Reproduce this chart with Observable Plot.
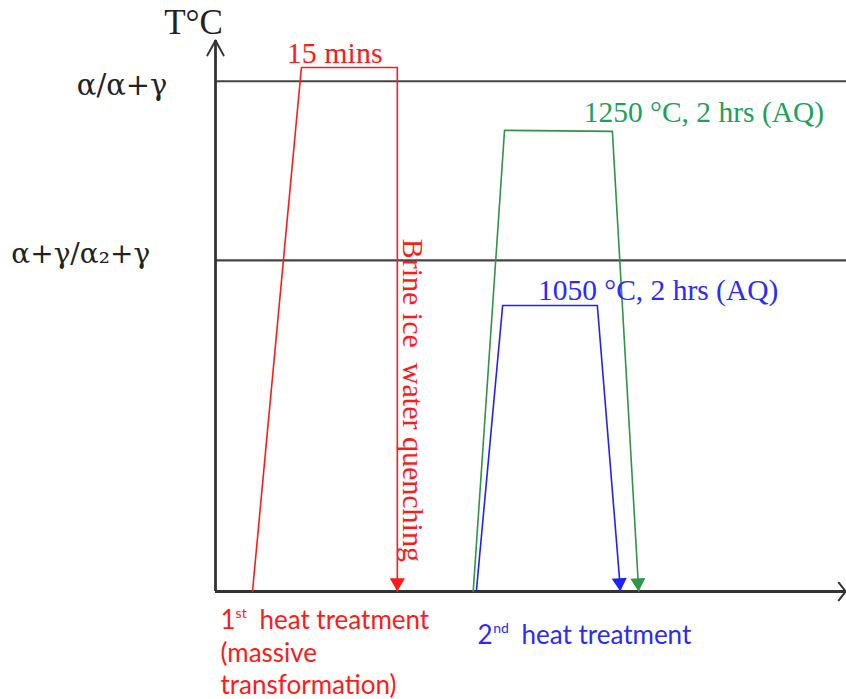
<!DOCTYPE html>
<html><head><meta charset="utf-8">
<script src="https://cdn.jsdelivr.net/npm/d3@7"></script>
<script src="https://cdn.jsdelivr.net/npm/@observablehq/plot@0.6"></script>
<style>body{margin:0;background:#fff}#chart svg{display:block;overflow:visible}</style>
</head><body><div id="chart"></div>
<script>
// Schematic heat-treatment diagram (arbitrary time / temperature units)
const phaseLevels = [92.6, 60.1];
const phaseLabels = ["α/α+γ", "α+γ/α₂+γ"];

const redTime = [5.9, 13.7, 29.0, 29.0];
const redTemp = [0, 95.1, 95.1, 0];
const greenTime = [41.1, 46.1, 63.3, 67.5];
const greenTemp = [0, 83.7, 83.5, 0];
const blueTime = [41.6, 45.8, 60.9, 64.6];
const blueTemp = [0, 51.9, 51.9, 0];

const colors = {red: "#ff1a1a", green: "#2f9446", blue: "#2020ff", greenText: "#21a05a", blueText: "#2a2aff", axis: "#333333", phase: "#444444"};

const serifLabels = [
  {text: "T°C", x: -3.5, y: 103.2, size: 35, color: "#222", font: "Liberation Serif"},
  {text: phaseLabels[0], x: -14.9, y: 91.8, size: 29, color: "#222", font: "DejaVu Serif"},
  {text: phaseLabels[1], x: -21.5, y: 61.2, size: 28, color: "#222", font: "DejaVu Serif"},
  {text: "15 mins", x: 19.0, y: 97.6, size: 30, color: colors.red, font: "Liberation Serif"},
  {text: "1250 °C, 2 hrs (AQ)", x: 77.9, y: 87.0, size: 29.5, color: colors.greenText, font: "Liberation Serif"},
  {text: "1050 °C, 2 hrs (AQ)", x: 70.6, y: 54.6, size: 29.5, color: colors.blueText, font: "Liberation Serif"}
];
const quenchLabel = [{text: "Brine ice  water quenching", x: 31.4, y: 34.7}];
const sansLabels = [
  {text: "1", x: 0.8, y: -5.3, size: 26, color: colors.red},
  {text: "st", x: 3.2, y: -4.0, size: 14, color: colors.red},
  {text: "heat treatment", x: 7.0, y: -5.3, size: 26, color: colors.red},
  {text: "(massive", x: 0.8, y: -11.3, size: 26, color: colors.red},
  {text: "transformation)", x: 0.8, y: -17.1, size: 26, color: colors.red},
  {text: "2", x: 41.8, y: -8.0, size: 26, color: colors.blueText},
  {text: "nd", x: 44.3, y: -6.7, size: 14, color: colors.blueText},
  {text: "heat treatment", x: 48.8, y: -8.0, size: 26, color: colors.blueText}
];

const pts = (t, v) => t.map((x, i) => ({x, y: v[i]}));
const red = pts(redTime, redTemp);
const green = pts(greenTime, greenTemp);
const blue = pts(blueTime, blueTemp);
const arrowHeads = [
  {x: redTime[3], y: 1.6, c: colors.red, r: 180},
  {x: blueTime[3] - 0.15, y: 1.6, c: colors.blue, r: 176},
  {x: greenTime[3] - 0.1, y: 1.6, c: colors.green, r: 177}
];

const marks = [
  Plot.ruleY(phaseLevels, {x1: 0, x2: 101, stroke: colors.phase, strokeWidth: 2.2}),
  Plot.ruleX([0], {y1: 0, y2: 100, stroke: colors.axis, strokeWidth: 2.8}),
  Plot.ruleY([0], {x1: 0, x2: 100.5, stroke: colors.axis, strokeWidth: 2.8}),
  Plot.line([{x: -1.3, y: 97.3}, {x: 0, y: 100}, {x: 1.3, y: 97.3}], {x: "x", y: "y", stroke: colors.axis, strokeWidth: 2}),
  Plot.line([{x: 99.4, y: 1.6}, {x: 100.5, y: 0}, {x: 99.4, y: -1.6}], {x: "x", y: "y", stroke: colors.axis, strokeWidth: 2}),
  Plot.line(red, {x: "x", y: "y", stroke: colors.red, strokeWidth: 1.6}),
  Plot.line(green, {x: "x", y: "y", stroke: colors.green, strokeWidth: 1.6}),
  Plot.line(blue, {x: "x", y: "y", stroke: colors.blue, strokeWidth: 1.6}),
  Plot.dot(arrowHeads, {x: "x", y: "y", fill: "c", symbol: "triangle", r: 5.6, rotate: "r", stroke: "none"}),
  ...serifLabels.map(d => Plot.text([d], {x: "x", y: "y", text: "text", fill: d.color, fontSize: d.size, fontFamily: d.font, textAnchor: "middle", lineAnchor: "middle"})),
  Plot.text(quenchLabel, {x: "x", y: "y", text: "text", rotate: 90, fill: colors.red, fontSize: 30, fontFamily: "Liberation Serif", textAnchor: "middle", lineAnchor: "middle"}),
  ...sansLabels.map(d => Plot.text([d], {x: "x", y: "y", text: "text", fill: d.color, fontSize: d.size, fontFamily: "Lato", textAnchor: "start", lineAnchor: "middle"}))
];

const chart = Plot.plot({
  width: 846, height: 699,
  marginLeft: 215, marginRight: 4, marginTop: 40, marginBottom: 108,
  x: {domain: [0, 100], axis: null},
  y: {domain: [0, 100], axis: null},
  style: {background: "#fff"},
  marks
});
document.getElementById("chart").append(chart);
</script>
</body></html>
